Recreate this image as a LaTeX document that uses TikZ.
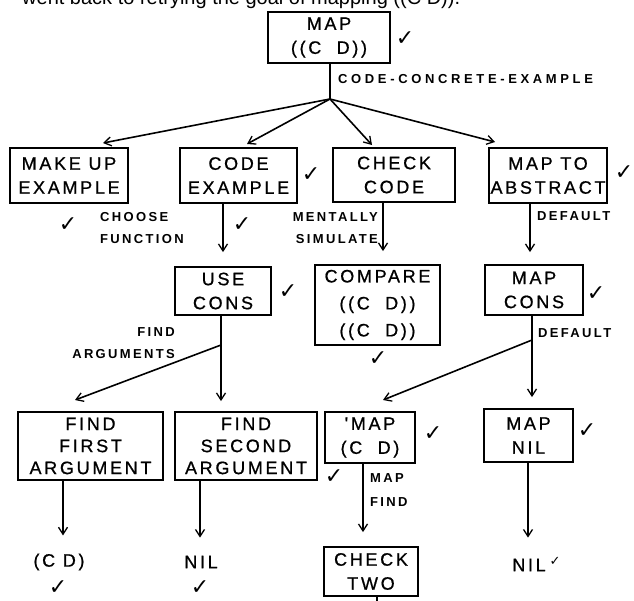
\documentclass[tikz,border=0pt]{standalone}
\usepackage{fontspec}
\setmainfont{Liberation Sans}
\newfontfamily\boxfont{Liberation Sans}[LetterSpace=15,FakeBold=0.8]
\newfontfamily\lblfont{Liberation Sans}[LetterSpace=18]
\newfontfamily\ccefont{Liberation Sans}[LetterSpace=28]
\newfontfamily\symfont{DejaVu Sans}
\usetikzlibrary{arrows.meta}
\tikzset{
  box/.style={draw, line width=1.8pt, inner sep=0pt, align=center,
    font=\boxfont\fontsize{18}{24}\selectfont},
  plain/.style={inner sep=0pt, font=\boxfont\fontsize{18}{24}\selectfont},
  lbl/.style={inner sep=0pt, font=\lblfont\bfseries\fontsize{13}{22}\selectfont},
  chk/.style={inner sep=0pt, font=\symfont\bfseries\fontsize{22}{22}\selectfont},
  line/.style={line width=1.6pt},
  conn/.style={line width=1.6pt, -{Straight Barb[length=7pt,width=9pt,line width=1.3pt]}}
}
\begin{document}
\begin{tikzpicture}[x=1pt,y=-1pt]
\useasboundingbox (0,0) rectangle (634,600);
\begin{scope}
\clip (0,0) rectangle (634,600);
\node[anchor=base west, inner sep=0pt, font=\fontsize{20}{20}\selectfont] (top) at (22,4) {went back to retrying the goal of mapping ((C D)).};
\end{scope}

% boxes
\node[box, minimum width=122pt, minimum height=51pt] (map) at (329,37.5) {MAP\\((C\ \ D))};
\node[box, minimum width=118pt, minimum height=55pt] (makeup) at (69,175.5) {MAKE UP\\EXAMPLE};
\node[box, minimum width=117pt, minimum height=55pt] (codeex) at (238.5,175.5) {CODE\\EXAMPLE};
\node[box, minimum width=122pt, minimum height=54pt] (checkcode) at (394,175) {CHECK\\CODE};
\node[box, minimum width=118pt, minimum height=55pt] (mapabs) at (548,175.5) {MAP TO\\ABSTRACT};
\node[box, minimum width=96pt, minimum height=48pt] (usecons) at (223,291) {USE\\CONS};
\node[box, minimum width=125pt, minimum height=80pt, font=\boxfont\fontsize{18}{27}\selectfont] (compare) at (377.5,305) {COMPARE\\((C\ \ D))\\((C\ \ D))};
\node[box, minimum width=98pt, minimum height=50pt] (mapcons) at (534,290) {MAP\\CONS};
\node[box, minimum width=145pt, minimum height=68pt, font=\boxfont\fontsize{18}{22}\selectfont] (findfirst) at (90.5,446) {FIND\\FIRST\\ARGUMENT};
\node[box, minimum width=142pt, minimum height=68pt, font=\boxfont\fontsize{18}{22}\selectfont] (findsecond) at (246,446) {FIND\\SECOND\\ARGUMENT};
\node[box, minimum width=90pt, minimum height=51pt] (mapcd) at (370,437.5) {'MAP\\(C\ \ D)};
\node[box, minimum width=89pt, minimum height=53pt] (mapnil) at (528.5,435.5) {MAP\\NIL};
\node[box, minimum width=94pt, minimum height=49pt] (checktwo) at (371,571.5) {CHECK\\TWO};

% results
\node[plain] (cd) at (59,562) {(C D)};
\node[plain] (nila) at (201,562) {NIL};
\node[plain] (nilb) at (529,565) {NIL};

% labels
\node[lbl, anchor=west, font=\ccefont\bfseries\fontsize{13}{22}\selectfont] (lcce) at (338,79) {CODE-CONCRETE-EXAMPLE};
\node[lbl, anchor=west, align=left] (lchoose) at (100,228) {CHOOSE\\FUNCTION};
\node[lbl, anchor=east, align=right] (lment) at (378,228) {MENTALLY\\SIMULATE};
\node[lbl, anchor=west] (ldef1) at (537,216) {DEFAULT};
\node[lbl, anchor=east, align=right] (lfind) at (175,343.5) {FIND\\ARGUMENTS};
\node[lbl, anchor=west] (ldef2) at (538,333) {DEFAULT};
\node[lbl, anchor=west, align=left, font=\lblfont\bfseries\fontsize{13}{24}\selectfont] (lmapfind) at (370,490) {MAP\\FIND};

% check marks
\node[chk] (c1) at (405,39) {✓};
\node[chk] (c2) at (311,175) {✓};
\node[chk] (c3) at (68,225) {✓};
\node[chk] (c4) at (242,225) {✓};
\node[chk] (c5) at (624,173) {✓};
\node[chk] (c6) at (288,292) {✓};
\node[chk] (c7) at (378,359) {✓};
\node[chk] (c8) at (596,294) {✓};
\node[chk] (c9) at (334,477) {✓};
\node[chk] (c10) at (433,434) {✓};
\node[chk] (c11) at (587,431) {✓};
\node[chk] (c12) at (58,588) {✓};
\node[chk] (c13) at (200,588) {✓};
\node[chk, font=\symfont\bfseries\fontsize{13}{13}\selectfont] (c14) at (555,561) {✓};

% junctions and tips
\coordinate (j1) at (330,99);
\coordinate (t1) at (103,143);
\coordinate (t2) at (247,144);
\coordinate (t3) at (372,145);
\coordinate (t4) at (495,142);
\coordinate (x1) at ([xshift=5.5pt]compare.north);
\coordinate (x2) at ([xshift=-4pt]mapcons.north);
\coordinate (j2) at (221,345);
\coordinate (t5) at (75,400);
\coordinate (j3) at (532,340);
\coordinate (t6) at (383,400);
\coordinate (x3) at (363,463);
\coordinate (x4) at (63,480);
\coordinate (x5) at (200,480);
\coordinate (x6) at (528,462);
\coordinate (off) at (377,612);

% connectors
\draw[line] (map.south -| j1) -- (j1);
\draw[conn] (j1) -- (t1);
\draw[conn] (j1) -- (t2);
\draw[conn] (j1) -- (t3);
\draw[conn] (j1) -- (t4);
\draw[conn, shorten >=14pt] (codeex.south -| usecons.north) -- (usecons.north);
\draw[conn, shorten >=13pt] (checkcode.south -| x1) -- (x1);
\draw[conn, shorten >=12pt] (mapabs.south -| x2) -- (x2);
\draw[line] (usecons.south -| j2) -- (j2);
\draw[conn, shorten >=10pt] (j2) -- (j2 |- findsecond.north);
\draw[conn] (j2) -- (t5);
\draw[line] (mapcons.south -| j3) -- (j3);
\draw[conn, shorten >=11pt] (j3) -- (j3 |- mapnil.north);
\draw[conn] (j3) -- (t6);
\draw[conn, shorten >=14pt] (mapcd.south -| x3) -- (x3 |- checktwo.north);
\draw[conn, shorten >=18pt] (findfirst.south -| x4) -- (x4 |- cd.north);
\draw[conn, shorten >=18pt] (findsecond.south -| x5) -- (x5 |- nila.north);
\draw[conn, shorten >=21pt] (mapnil.south -| x6) -- (x6 |- nilb.north);
\draw[line] (checktwo.south -| off) -- (off);
\end{tikzpicture}
\end{document}
